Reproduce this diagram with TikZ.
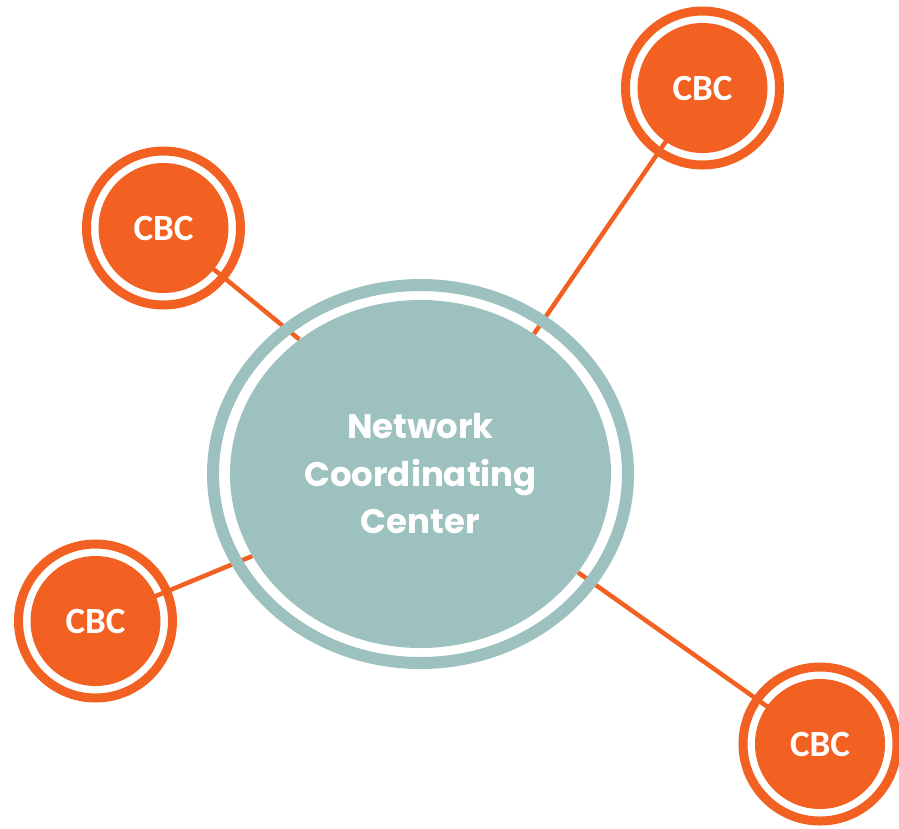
\documentclass[tikz,border=0pt]{standalone}
\usepackage{fontspec}
\setmainfont{Carlito}
\newfontfamily\nccfont{Poppins}
\usetikzlibrary{shapes.geometric}
\pgfdeclarelayer{background}
\pgfsetlayers{background,main}
\definecolor{cbcorange}{HTML}{F26122}
\definecolor{nccteal}{HTML}{9DC1BF}
\begin{document}
\begin{tikzpicture}[x=1pt,y=-1pt]
        \tikzstyle{cbc}=[circle,fill=cbcorange,inner sep=0pt,minimum size=130pt,text=white,font=\bfseries\fontsize{37}{40}\selectfont]
        \tikzstyle{cbcring}=[circle,draw=cbcorange,line width=9pt,minimum size=154pt,inner sep=0pt]
        \tikzstyle{ncc}=[ellipse,fill=nccteal,inner sep=0pt,minimum width=381pt,minimum height=348pt,text=white,align=center,font=\nccfont\bfseries\fontsize{34}{47.5}\selectfont]
        \tikzstyle{nccring}=[ellipse,draw=nccteal,line width=12pt,minimum width=415pt,minimum height=378pt,inner sep=0pt]
        \tikzstyle{edge}=[draw=cbcorange,line width=4.5pt]
        \useasboundingbox (0,0) rectangle (899,828);
       \begin{scope}
         \node [nccring] (nccr) at (420.5,474) {};
         \node [ncc] (ncc) at (420.5,474) {Network\\Coordinating\\Center};
         \node [cbcring] (r1) at (702.5,88) {};
         \node [cbc] (c1) at (702.5,88) {CBC};
         \node [cbcring] (r2) at (163.5,228) {};
         \node [cbc] (c2) at (163.5,228) {CBC};
         \node [cbcring] (r3) at (95.5,621) {};
         \node [cbc] (c3) at (95.5,621) {CBC};
         \node [cbcring] (r4) at (820,744) {};
         \node [cbc] (c4) at (820,744) {CBC};
         \begin{pgfonlayer}{background}
           \path[edge] (c1.center) edge (ncc.51);
           \path[edge] (c2.center) edge (ncc.132);
           \path[edge] (c3.center) edge (ncc.206);
           \path[edge] (c4.center) edge (ncc.328);
         \end{pgfonlayer}
        \end{scope}
      \end{tikzpicture}
\end{document}
